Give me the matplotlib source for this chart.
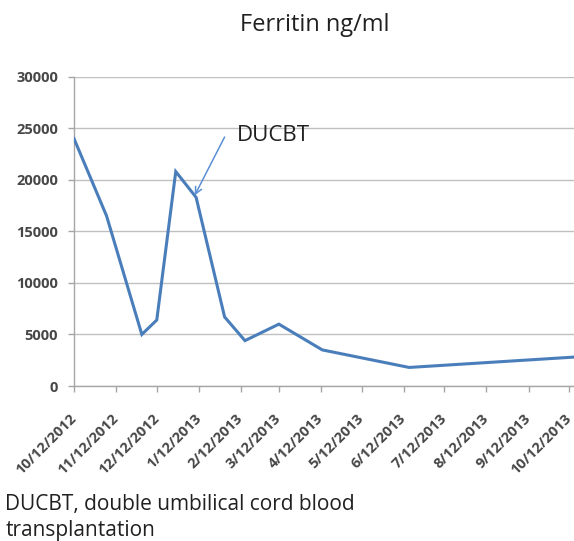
import datetime as dt
import matplotlib
matplotlib.use('Agg')
import matplotlib.pyplot as plt

# datos
fechas = ['2012-10-12', '2012-11-05', '2012-12-01', '2012-12-12', '2012-12-26',
          '2013-01-10', '2013-01-31', '2013-02-15', '2013-03-12', '2013-04-13',
          '2013-06-16', '2013-10-15']
ferritina = [24000, 16500, 5000, 6400, 20800, 18300, 6700, 4400, 6000, 3500, 1800, 2800]

ticks_x = ['2012-10-12', '2012-11-12', '2012-12-12', '2013-01-12', '2013-02-12',
           '2013-03-12', '2013-04-12', '2013-05-12', '2013-06-12', '2013-07-12',
           '2013-08-12', '2013-09-12', '2013-10-12']
etiquetas_x = ['10/12/2012', '11/12/2012', '12/12/2012', '1/12/2013', '2/12/2013',
               '3/12/2013', '4/12/2013', '5/12/2013', '6/12/2013', '7/12/2013',
               '8/12/2013', '9/12/2013', '10/12/2013']
ticks_y = [0, 5000, 10000, 15000, 20000, 25000, 30000]

# flecha DUCBT (punta en el trasplante)
fecha_ducbt = '2013-01-09'
valor_ducbt = 18500
fecha_flecha = '2013-01-31'
valor_flecha = 24150

plt.rcParams['font.family'] = ['Open Sans', 'DejaVu Sans']

def a_fecha(s):
    return dt.datetime.strptime(s, '%Y-%m-%d')

x = [a_fecha(f) for f in fechas]
xt = [a_fecha(f) for f in ticks_x]

fig = plt.figure(figsize=(5.74, 5.41), dpi=100)
ax = fig.add_axes([0.1289, 0.2865, 0.8711, 0.5717])

ax.plot(x, ferritina, color='#4a7ebb', linewidth=2.2, solid_joinstyle='miter', zorder=3)

inicio = a_fecha('2012-10-12')
ax.set_xlim(inicio, inicio + dt.timedelta(days=368.5))
ax.set_ylim(0, 30000)

ax.set_xticks(xt)
ax.set_xticklabels(etiquetas_x, rotation=45, ha='right', va='center',
                   rotation_mode='anchor', fontsize=10.5, fontweight='bold', color='#474747')
ax.set_yticks(ticks_y)
ax.set_yticklabels([str(v) for v in ticks_y], fontsize=10.5, fontweight='bold', color='#474747')

ax.grid(axis='y', color='#c0c0c0', linewidth=1)
ax.set_axisbelow(True)
for lado in ['top', 'right']:
    ax.spines[lado].set_visible(False)
for lado in ['left', 'bottom']:
    ax.spines[lado].set_color('#a6a6a6')
    ax.spines[lado].set_linewidth(1)
ax.tick_params(axis='both', color='#a6a6a6', length=4.5, width=1)
ax.tick_params(axis='y', pad=7)
ax.tick_params(axis='x', pad=17)

fig.text(0.548, 0.953, 'Ferritin ng/ml', ha='center', va='center', fontsize=17, color='#202020')

ax.annotate('', xy=(a_fecha(fecha_ducbt), valor_ducbt),
            xytext=(a_fecha(fecha_flecha), valor_flecha),
            arrowprops=dict(arrowstyle='->', color='#5b8fd4', lw=1.1,
                            shrinkA=0, shrinkB=0, mutation_scale=12))
ax.text(a_fecha('2013-02-09'), 24300, 'DUCBT', fontsize=16, color='#202020',
        ha='left', va='center')

fig.text(0.009, 0.044, 'DUCBT, double umbilical cord blood\ntransplantation',
         ha='left', va='center', fontsize=15, color='#202020', linespacing=1.3)

fig.savefig('out.png', dpi=100)
